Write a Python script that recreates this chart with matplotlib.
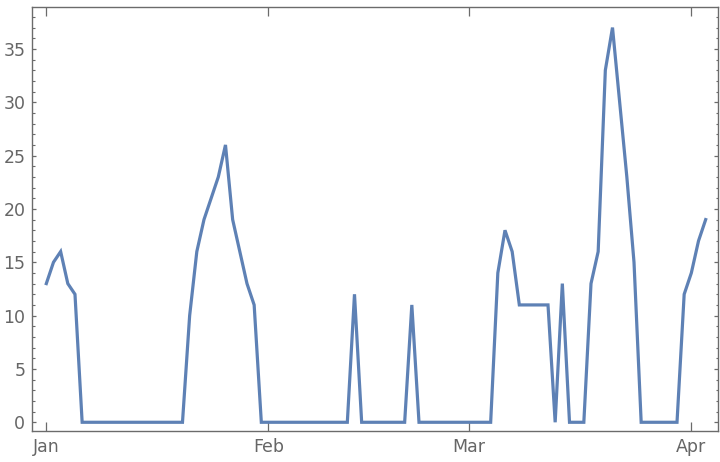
import matplotlib
matplotlib.use("Agg")
import matplotlib.pyplot as plt
import matplotlib.dates as mdates
from matplotlib.ticker import MultipleLocator
import numpy as np
import datetime as dt

start_date = "2021-01-01"
values = [13, 15, 16, 13, 12,
          0, 0, 0, 0, 0, 0, 0, 0, 0, 0, 0, 0, 0, 0, 0,
          10, 16, 19, 21, 23, 26, 19, 16, 13, 11,
          0, 0, 0, 0, 0, 0, 0, 0, 0, 0, 0, 0, 0,
          12,
          0, 0, 0, 0, 0, 0, 0,
          11,
          0, 0, 0, 0, 0, 0, 0, 0, 0, 0, 0,
          14, 18, 16, 11, 11, 11, 11, 11,
          0, 13, 0, 0, 0,
          13, 16, 33, 37, 30, 23, 15,
          0, 0, 0, 0, 0, 0,
          12, 14, 17, 19]
month_ticks = ["2021-01-01", "2021-02-01", "2021-03-01", "2021-04-01"]
month_labels = ["Jan", "Feb", "Mar", "Apr"]

dates = np.arange(np.datetime64(start_date), np.datetime64(start_date) + len(values))
dates = dates.astype("datetime64[D]").astype(dt.datetime)

frame_col = "#6b6b6b"
text_col = "#666666"
line_col = "#5e81b5"

fig = plt.figure(figsize=(7.2, 4.62), dpi=100)
ax = fig.add_axes([32.3/720, 1-430.7/462, (718-32.3)/720, (430.7-7.3)/462])
ax.plot(dates, values, color=line_col, lw=2.3, solid_joinstyle="miter")

x0 = mdates.date2num(dates[0]); x1 = mdates.date2num(dates[-1])
ax.set_xlim(x0 - 1.955, x1 + 1.72)
ax.set_ylim(-0.79, 38.9)

mt = [mdates.date2num(np.datetime64(m).astype(dt.datetime)) for m in month_ticks]
ax.set_xticks(mt)
ax.set_xticklabels(month_labels)
ax.yaxis.set_major_locator(MultipleLocator(5))
ax.yaxis.set_minor_locator(MultipleLocator(1))

for s in ax.spines.values():
    s.set_color(frame_col)
    s.set_linewidth(1.0)

ax.tick_params(axis="x", which="major", direction="in", length=6.3, width=0.9,
               color=frame_col, top=True, labelcolor=text_col, labelsize=12.5, pad=5)
ax.tick_params(axis="y", which="major", direction="in", length=3.0, width=0.9,
               color=frame_col, right=True, labelcolor=text_col, labelsize=12.5, pad=5)
ax.tick_params(axis="y", which="minor", direction="in", length=1.8, width=0.8,
               color=frame_col, right=True)
ax.tick_params(axis="x", which="minor", bottom=False, top=False)

fig.savefig("out.png", dpi=100)
